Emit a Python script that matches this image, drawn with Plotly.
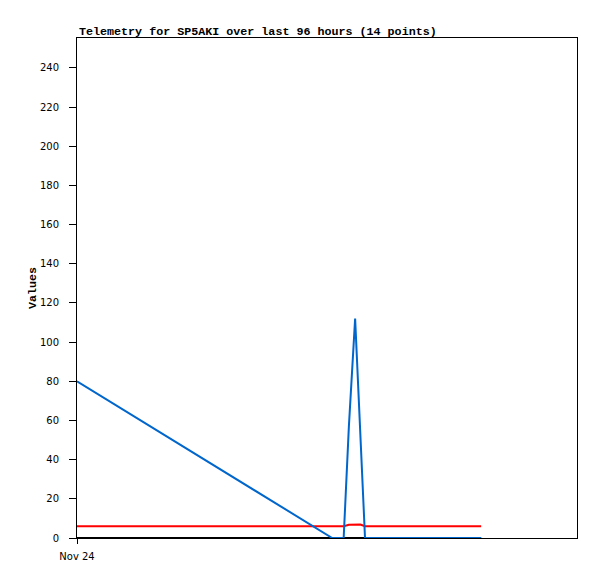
import plotly.graph_objects as go

hours = [0, 49.0, 51.2, 52.2, 53.4, 54.4, 55.3, 58, 62, 66, 70, 73, 75.5, 77.6]
blue_vals = [80, 0, 0, 57, 112, 55, 0, 0, 0, 0, 0, 0, 0, 0]
red_vals = [6, 6, 6, 6.8, 7, 6.9, 6, 6, 6, 6, 6, 6, 6, 6]
black_vals = [0] * 14
x_tick_vals = [0]
x_tick_text = ["Nov 24"]
y_ticks = list(range(0, 241, 20))

fig = go.Figure()
fig.add_trace(go.Scatter(x=hours, y=black_vals, mode="lines",
                         line=dict(color="#000000", width=2), showlegend=False))
fig.add_trace(go.Scatter(x=hours, y=red_vals, mode="lines",
                         line=dict(color="#ff0000", width=2), showlegend=False))
fig.add_trace(go.Scatter(x=hours, y=blue_vals, mode="lines",
                         line=dict(color="#0066cc", width=2), showlegend=False))

fig.update_layout(
    width=597, height=579,
    margin=dict(l=69, r=28, t=30, b=49, autoexpand=False),
    paper_bgcolor="white", plot_bgcolor="white",
    font=dict(family="DejaVu Sans", size=10, color="#000000"),
)
fig.add_annotation(
    text="<b>Telemetry for SP5AKI over last 96 hours (14 points)</b>",
    xref="paper", yref="paper", x=0, y=1, xanchor="left", yanchor="bottom",
    yshift=-3, showarrow=False,
    font=dict(family="Liberation Mono", size=11.7, color="#000000"),
)
fig.update_xaxes(
    range=[0, 96], tickvals=x_tick_vals, ticktext=x_tick_text,
    showgrid=False, zeroline=False, showline=True, linecolor="#000000",
    linewidth=1, mirror=True, ticks="outside", ticklen=5, tickcolor="#000000",
    ticklabelstandoff=4,
    tickfont=dict(family="DejaVu Sans", size=10),
)
fig.update_yaxes(
    range=[0, 255.3], tickvals=y_ticks,
    showgrid=False, zeroline=False, showline=True, linecolor="#000000",
    linewidth=1, mirror=True, ticks="outside", ticklen=7, tickcolor="#000000",
    ticklabelstandoff=8,
    tickfont=dict(family="DejaVu Sans", size=10),
    title=dict(text="<b>Values</b>", font=dict(family="Liberation Mono", size=11.7), standoff=0),
)

fig.write_html("out.html")
